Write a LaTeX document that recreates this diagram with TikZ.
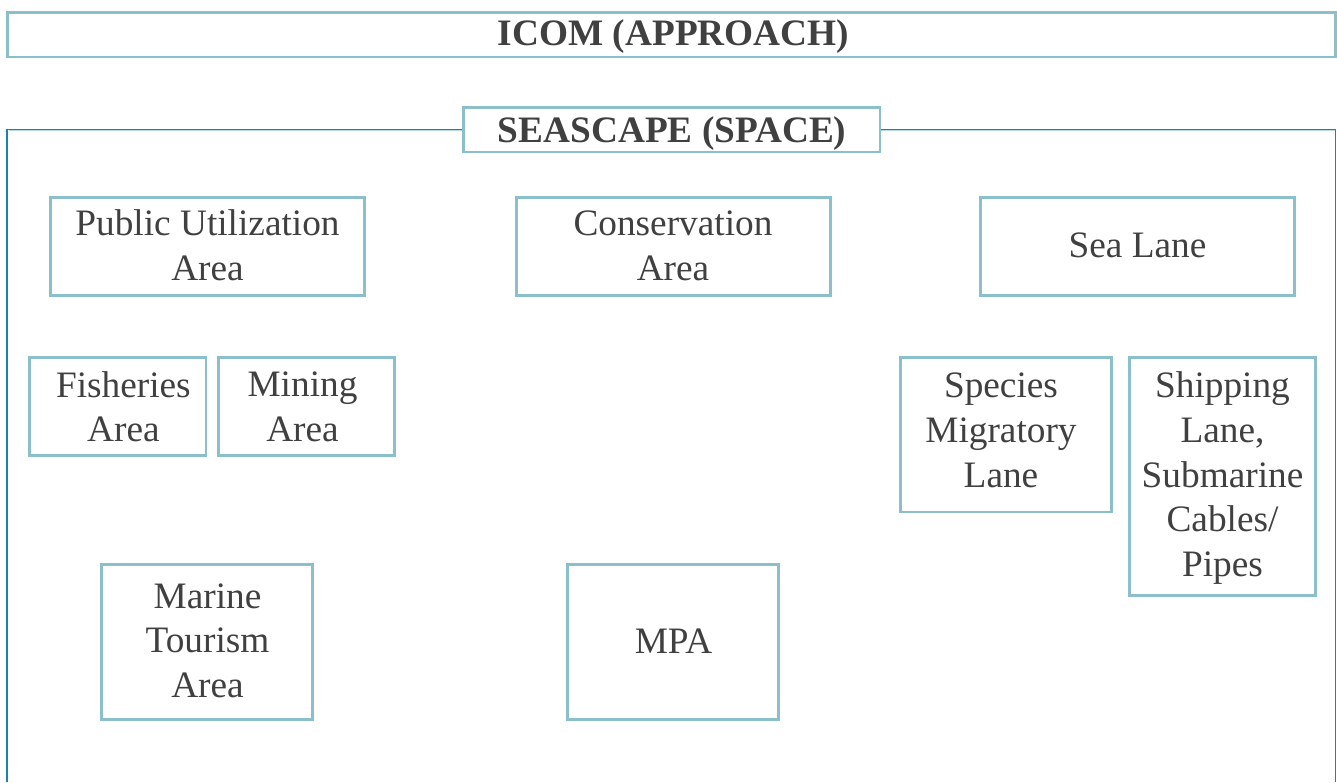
\documentclass[tikz,border=0pt]{standalone}
\usepackage{fontspec}
\setmainfont{Liberation Serif}
\definecolor{boxline}{HTML}{8BBFCB}
\definecolor{frameline}{HTML}{1585A8}
\definecolor{frameshade}{HTML}{B5DAE2}
\definecolor{txt}{HTML}{404040}
\tikzset{
  areabox/.style={draw=boxline,line width=2.8pt,fill=white,inner sep=0pt},
  areatext/.style={text=txt,inner sep=0pt,align=center,font=\fontsize{37.3}{44.7}\selectfont},
  headtext/.style={areatext,font=\fontsize{37.3}{44.7}\selectfont\bfseries},
  frame/.style={draw=frameline,line width=1.5pt},
  frameglow/.style={draw=frameshade,line width=1.3pt}
}
% text style, name, x1, y1, x2, y2, text dx, text rise, text
\newcommand{\abox}[9][areatext]{%
  \node[areabox,minimum width=#5pt-#3pt,minimum height=#6pt-#4pt] (#2) at ({(#3+#5)/2},{(#4+#6)/2}) {};
  \abtext{#1}{#2}{#7}{#8}{#9}}
\newcommand{\abtext}[5]{\node[#1] (#2-text) at ([xshift=#3pt,yshift=#4pt]#2.center) {#5};}
\begin{document}
\begin{tikzpicture}[x=1pt,y=-1pt]
\useasboundingbox (0,0) rectangle (1337,782);
\coordinate (fbl) at (7.2,782);
\coordinate (ftl) at (7.2,129.4);
\coordinate (ftr) at (1335.7,129.4);
\coordinate (fbr) at (1335.7,782);
\coordinate (gtl) at (8.5,130.8);
\coordinate (gtr) at (1334.5,130.8);
\draw[frameglow] (gtl) -- (gtr);
\draw[frame] (fbl) -- (ftl) -- (ftr) -- (fbr);
\abox[headtext]{icom}{7.5}{12.3}{1335.5}{56.9}{2}{-1.5}{ICOM (APPROACH)}
\abox[headtext]{seascape}{463.3}{107.3}{880}{151.9}{0.5}{-4}{SEASCAPE (SPACE)}
\abox{public}{50.3}{197.6}{364.7}{295.6}{0}{1.5}{Public Utilization\\Area}
\abox{conservation}{516.3}{197.6}{830.7}{295.6}{-0.5}{1}{Conservation\\Area}
\abox{sealane}{980.3}{197.6}{1294.7}{295.6}{0}{1}{Sea Lane}
\abox{fisheries}{29.8}{357.6}{206}{455.6}{5.5}{0}{Fisheries\\Area}
\abox{mining}{218.3}{357.6}{394.7}{455.6}{-4}{0}{Mining\\Area}
\abox{species}{900.3}{357.6}{1111.7}{512}{-5}{4.5}{Species\\Migratory\\Lane}
\abox{shipping}{1129.3}{357.6}{1315.7}{595.6}{0}{-1.5}{Shipping\\Lane,\\Submarine\\Cables/\\Pipes}
\abox{tourism}{101.3}{564.6}{312.7}{719.6}{0.5}{1.5}{Marine\\Tourism\\Area}
\abox{mpa}{567.3}{564.6}{778.7}{719.6}{0.5}{1}{MPA}
\end{tikzpicture}
\end{document}
